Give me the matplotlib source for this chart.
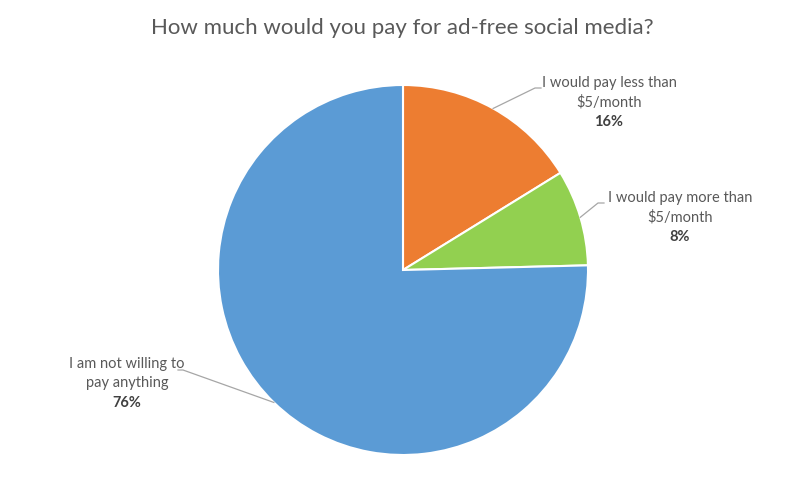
import numpy as np
import matplotlib
matplotlib.use("Agg")
import matplotlib.pyplot as plt

title = "How much would you pay for ad-free social media?"
labels = [["I would pay less than", "$5/month"],
          ["I would pay more than", "$5/month"],
          ["I am not willing to", "pay anything"]]
values = [16.2, 8.4, 75.4]          # slice sizes
pct_labels = ["16%", "8%", "76%"]   # percentages as printed
colors = ["#ED7D31", "#92D050", "#5B9BD5"]

W, H = 801, 494
fig = plt.figure(figsize=(W / 100, H / 100), dpi=100)
ax = fig.add_axes([0, 0, 1, 1])

plt.rcParams['font.family'] = ['Lato', 'DejaVu Sans']
txt = "#595959"

cx, cy, r = 403, H - 270, 185
wedges, _ = ax.pie(values, colors=colors, startangle=90, counterclock=False,
                   center=(cx, cy), radius=r, frame=True,
                   wedgeprops=dict(edgecolor="white", linewidth=1.5))
ax.set_xlim(0, W)
ax.set_ylim(0, H)
ax.axis("off")

ax.text(402, H - 28, title, ha="center", va="center", fontsize=16, color=txt)

# label text center x, first-line center y (px from top)
label_pos = [(609, 83), (680, 198), (127, 364)]
elbows = [((535, 88), (541, 88)), ((598, 203), (604, 203)), ((183, 370), (178, 370))]
step = 19.5

for w, lab, pct, (lx, ly), (e1, e2) in zip(wedges, labels, pct_labels, label_pos, elbows):
    ang = np.deg2rad((w.theta1 + w.theta2) / 2)
    px, py = cx + r * np.cos(ang), cy + r * np.sin(ang)
    ax.plot([px, e1[0], e2[0]], [py, H - e1[1], H - e2[1]], color="#A6A6A6", lw=0.9)
    for i, line in enumerate(lab):
        ax.text(lx, H - (ly + i * step), line, ha="center", va="center",
                fontsize=10.5, color=txt)
    ax.text(lx, H - (ly + 2 * step), pct, ha="center", va="center", fontsize=10.5,
            color="#404040", fontweight="bold")

fig.savefig("out.png", dpi=100)
